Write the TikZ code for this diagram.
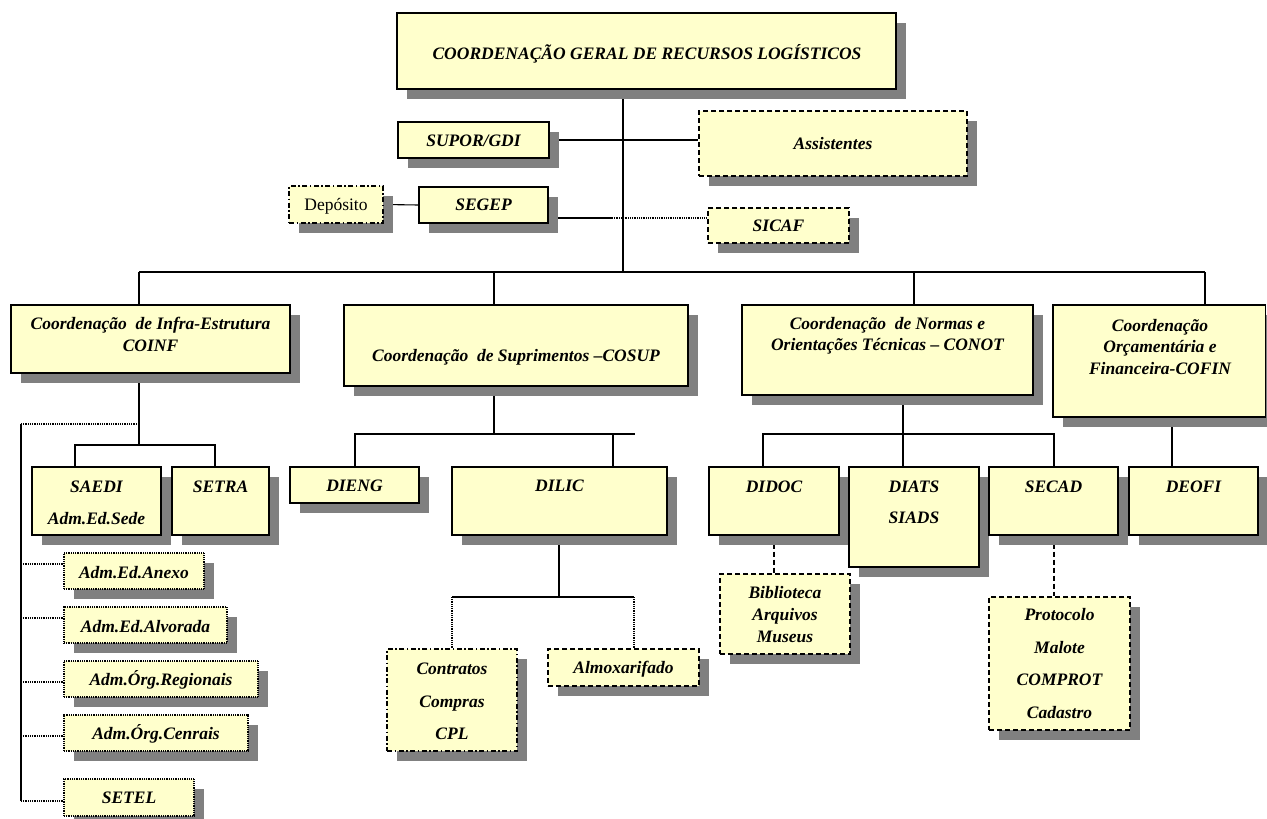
\documentclass[tikz,border=0pt]{standalone}
\usepackage{fontspec}
\setmainfont{Liberation Serif}
\usetikzlibrary{shadows,fit}
\pgfdeclarelayer{background}
\pgfsetlayers{background,main}
\definecolor{boxfill}{HTML}{FFFFCC}
\definecolor{shadowgray}{HTML}{808080}
\tikzset{
  orgbox/.style={draw=black, line width=1.3pt, fill=boxfill, inner sep=0pt,
    drop shadow={shadow xshift=10pt, shadow yshift=-10pt, fill=shadowgray, opacity=1}},
  dashbox/.style={orgbox, line width=2pt, dash pattern=on 5pt off 3pt},
  dashdotbox/.style={orgbox, line width=2pt, dash pattern=on 5pt off 2.5pt on 1.5pt off 2.5pt},
  dotbox/.style={orgbox, line width=1.5pt, dash pattern=on 1pt off 0.8pt},
  lbl/.style={font=\fontsize{17.5}{21.5}\selectfont\bfseries\itshape, align=center, inner sep=0pt},
  lblw/.style={lbl, font=\fontsize{17.5}{32.5}\selectfont\bfseries\itshape},
  lblr/.style={font=\fontsize{17.5}{21.5}\selectfont, inner sep=0pt},
  conn/.style={line width=1.1pt, draw=black},
  dotconn/.style={line width=1.6pt, dash pattern=on 1pt off 0.8pt},
  dashconn/.style={line width=2pt, dash pattern=on 5pt off 3pt},
}
\begin{document}
\begin{tikzpicture}[x=1pt,y=-1pt]
\useasboundingbox (0,0) rectangle (1267,819);
% ---------- boxes ----------
\node[orgbox, fit={(397,13)(896,89)}] (top) {};
\node[orgbox, fit={(398,122)(549,158)}] (supor) {};
\node[dashbox, fit={(699,111)(967,176)}] (assist) {};
\node[dashdotbox, fit={(289,186)(383,223)}] (dep) {};
\node[orgbox, fit={(419,187)(548,223)}] (segep) {};
\node[dashbox, fit={(708,208)(849,243)}] (sicaf) {};

\node[orgbox, fit={(11,305)(290,373)}] (coinf) {};
\node[orgbox, fit={(344,305)(688,386)}] (cosup) {};
\node[orgbox, fit={(742,305)(1033,395)}] (conot) {};
\node[orgbox, fit={(1053,305)(1265.5,417)}] (cofin) {};

\node[orgbox, fit={(32,467)(161,535)}] (saedi) {};
\node[orgbox, fit={(172,467)(269,535)}] (setra) {};
\node[dotbox, fit={(64,553)(204,589)}] (anexo) {};
\node[dotbox, fit={(64,607)(227,643)}] (alvorada) {};
\node[dotbox, fit={(64,661)(258,697)}] (regionais) {};
\node[dotbox, fit={(64,715)(248,751)}] (cenrais) {};
\node[dotbox, fit={(64,779)(194,816)}] (setel) {};

\node[orgbox, fit={(290,467)(419,503)}] (dieng) {};
\node[orgbox, fit={(452,467)(667,535)}] (dilic) {};
\node[dashdotbox, fit={(387,649)(517,751)}] (contratos) {};
\node[dashbox, fit={(548,649)(699,686)}] (almox) {};

\node[orgbox, fit={(709,467)(839,535)}] (didoc) {};
\node[orgbox, fit={(849,467)(979,567)}] (diats) {};
\node[orgbox, fit={(989,467)(1118,535)}] (secad) {};
\node[orgbox, fit={(1129,467)(1258,535)}] (deofi) {};
\node[dashbox, fit={(720,574)(850,654)}] (biblio) {};
\node[dashbox, fit={(989,597)(1130,730)}] (proto) {};

% ---------- texts ----------
\node[lbl] (ttop) at (647,54) {COORDENAÇÃO GERAL DE RECURSOS LOGÍSTICOS};
\node[lbl] (tsupor) at (473.5,141) {SUPOR/GDI};
\node[lbl] (tassist) at (833,144) {Assistentes};
\node[lblr] (tdep) at (336,206) {Depósito};
\node[lbl] (tsegep) at (483.5,205) {SEGEP};
\node[lbl] (tsicaf) at (778.5,226) {SICAF};
\node[lbl] (tcoinf) at (150.5,334.5) {Coordenação\ \ de Infra-Estrutura\\COINF};
\node[lbl] (tcosup) at (516,357) {Coordenação\ \ de Suprimentos –COSUP};
\node[lbl] (tconot) at (887.5,336) {Coordenação\ \ de Normas e\\Orientações Técnicas – CONOT};
\node[lbl] (tcofin) at (1160,347) {Coordenação\\Orçamentária e\\Financeira-COFIN};
\node[lblw] (tsaedi) at (96.5,503) {SAEDI\\Adm.Ed.Sede};
\node[lbl] (tsetra) at (220.5,487) {SETRA};
\node[lbl] (tanexo) at (134,573) {Adm.Ed.Anexo};
\node[lbl] (talv) at (145.5,627) {Adm.Ed.Alvorada};
\node[lbl] (treg) at (161,680) {Adm.Órg.Regionais};
\node[lbl] (tcen) at (156,734) {Adm.Órg.Cenrais};
\node[lbl] (tsetel) at (129,798) {SETEL};
\node[lbl] (tdieng) at (354.5,486) {DIENG};
\node[lbl] (tdilic) at (559.5,486) {DILIC};
\node[lblw] (tcontr) at (452,701.5) {Contratos\\Compras\\CPL};
\node[lbl] (talmox) at (623.5,669) {Almoxarifado};
\node[lbl] (tdidoc) at (774,487) {DIDOC};
\node[lblw, font=\fontsize{17.5}{31}\selectfont\bfseries\itshape] (tdiats) at (914,502.5) {DIATS\\SIADS};
\node[lbl] (tsecad) at (1053.5,487) {SECAD};
\node[lbl, font=\fontsize{17.5}{22}\selectfont\bfseries\itshape] (tbib) at (785,615) {Biblioteca\\Arquivos\\Museus};
\node[lblw] (tproto) at (1059.5,663.5) {Protocolo\\Malote\\COMPROT\\Cadastro};
\node[lbl] (tdeofi) at (1193.5,487) {DEOFI};

% ---------- connectors ----------
\begin{pgfonlayer}{background}
\coordinate (spine) at (623,272);
\draw[conn] (top.south -| spine) -- (spine);
\draw[conn] (supor.east) -- (supor.east -| assist.west);
\draw[conn] (dep.east) -- (segep.west);
\coordinate (sgA) at ([yshift=-13pt]segep.east);
\coordinate (sgB) at (612,218);
\draw[conn] (sgA) -- (sgB);
\draw[dotconn] (sgB) -- (sgB -| sicaf.west);

\coordinate (barL) at (139,272);
\coordinate (barR) at (1205,272);
\coordinate (dCosup) at (494,272);
\coordinate (dConot) at (914,272);
\draw[conn] (barL) -- (barR);
\draw[conn] (barL) -- (barL |- coinf.north);
\draw[conn] (dCosup) -- (dCosup |- cosup.north);
\draw[conn] (dConot) -- (dConot |- conot.north);
\draw[conn] (barR) -- (barR |- cofin.north);

% COINF
\coordinate (ciBar) at (139,445);
\coordinate (ciL) at (75,445);
\coordinate (ciR) at (215,445);
\draw[conn] (coinf.south -| ciBar) -- (ciBar);
\draw[conn] (ciL |- saedi.north) -- (ciL) -- (ciR) -- (ciR |- setra.north);
\coordinate (ciDot) at (139,424);
\coordinate (rail) at (21,424);
\coordinate (railEnd) at (21,801);
\draw[dotconn] (ciDot) -- (rail);
\draw[conn] (rail) -- (railEnd);
\coordinate (r1) at (21,564);
\coordinate (r2) at (21,618);
\coordinate (r3) at (21,682);
\coordinate (r4) at (21,736);
\draw[dotconn] (r1) -- (r1 -| anexo.west);
\draw[dotconn] (r2) -- (r2 -| alvorada.west);
\draw[dotconn] (r3) -- (r3 -| regionais.west);
\draw[dotconn] (r4) -- (r4 -| cenrais.west);
\draw[dotconn] (railEnd) -- (railEnd -| setel.west);

% COSUP
\coordinate (csBar) at (494,434);
\coordinate (csL) at (355,434);
\coordinate (csR) at (635,434);
\coordinate (csD) at (613,434);
\draw[conn] (cosup.south -| csBar) -- (csBar);
\draw[conn] (csL |- dieng.north) -- (csL) -- (csR);
\draw[conn] (csD) -- (csD |- dilic.north);
\coordinate (dlBar) at (559,597);
\coordinate (dlL) at (452,597);
\coordinate (dlR) at (634,597);
\draw[conn] (dilic.south -| dlBar) -- (dlBar);
\draw[conn] (dlL) -- (dlR);
\draw[dotconn] (dlL) -- (dlL |- contratos.north);
\draw[dotconn] (dlR) -- (dlR |- almox.north);

% CONOT
\coordinate (cnBar) at (903,434);
\coordinate (cnL) at (763,434);
\coordinate (cnR) at (1054,434);
\draw[conn] (conot.south -| cnBar) -- (cnBar) -- (cnBar |- diats.north);
\draw[conn] (cnL |- didoc.north) -- (cnL) -- (cnR) -- (cnR |- secad.north);
\draw[dashconn] (didoc.south) -- (didoc.south |- biblio.north);
\coordinate (scx) at (1054,535);
\draw[dashconn] (secad.south -| scx) -- (scx |- proto.north);

% COFIN
\coordinate (cfx) at (1172,417);
\draw[conn] (cofin.south -| cfx) -- (cfx |- deofi.north);
\end{pgfonlayer}
\end{tikzpicture}
\end{document}
